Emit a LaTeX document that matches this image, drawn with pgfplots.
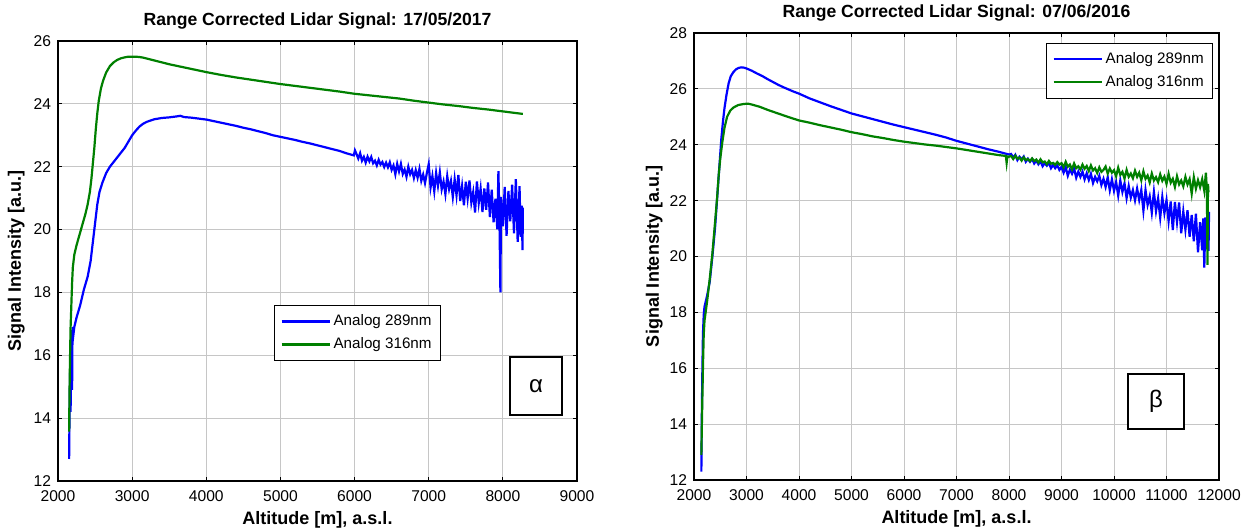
\documentclass[border=0pt]{standalone}
\usepackage{fontspec}
\setmainfont{Liberation Sans}
\usepackage{pgfplots}
\pgfplotsset{compat=1.18}

\definecolor{mblue}{RGB}{0,0,255}
\definecolor{mgreen}{RGB}{0,128,0}

% 1 px of the reference = 0.5pt
\pgfplotsset{
  lidar/.style={
    scale only axis,
    anchor=south west,
    axis line style={line width=0.75pt},
    tick align=inside,
    major tick length=2pt,
    tick style={black,line width=0.5pt},
    grid=major,
    major grid style={gray!45,line width=0.5pt},
    scaled ticks=false,
    /pgf/number format/assume math mode=true,
    /pgf/number format/1000 sep={},
    ticklabel style={font=\fontsize{7.8}{9}\selectfont},
    xticklabel style={yshift=-1.5pt},
    title style={font=\bfseries\fontsize{8.8}{10}\selectfont, at={(0.5,1)}, anchor=base, yshift=1.5pt},
    xlabel style={font=\bfseries\fontsize{9}{10}\selectfont, at={(0.5,0)}, anchor=base, yshift=-22pt},
    ylabel style={font=\bfseries\fontsize{9}{10}\selectfont, anchor=base},
    legend style={font=\fontsize{7.6}{9}\selectfont, draw=black, line width=0.5pt,
      inner xsep=3pt, inner ysep=3pt, nodes={inner sep=1.5pt}, row sep=1.5pt, cells={anchor=west}},
    legend image code/.code={\draw[#1, line width=1.1pt] (0pt,0pt) -- (24pt,0pt);},
  },
}

\begin{document}
\begin{tikzpicture}
\useasboundingbox (0,0) rectangle (624.5pt,264.5pt);

% ---------------- left panel ----------------
\begin{axis}[
  lidar,
  at={(29pt,24pt)},
  width=259.5pt, height=220pt,
  xmin=2000, xmax=9000, ymin=12, ymax=26,
  xtick={2000,3000,...,9000},
  ytick={12,14,...,26},
  title={Range Corrected Lidar Signal: 17/05/2017},
  xlabel={Altitude [m], a.s.l.},
  ylabel={Signal Intensity [a.u.]},
  ylabel style={at={(axis description cs:-0.0713,0.5)}},
  legend style={at={(0.416,0.4)}, anchor=north west},
]
\addplot[mblue, line width=1.1pt] coordinates {
(2150,12.7)(2155,14.0)(2160,15.0)(2165,15.7)(2170,14.2)(2175,15.8)(2180,16.8)
(2185,15.0)(2190,14.9)(2195,16.6)(2200,16.9)(2210,16.7)(2220,16.9)(2250,17.2)
(2300,17.6)(2350,18.1)(2400,18.5)(2440,19.0)(2470,19.6)(2500,20.2)(2530,20.8)
(2560,21.2)(2600,21.5)(2650,21.8)(2700,22.0)(2750,22.15)(2800,22.3)(2850,22.45)
(2900,22.6)(2950,22.8)(3000,23.0)(3050,23.15)(3100,23.28)(3150,23.37)(3200,23.43)
(3300,23.51)(3400,23.55)(3500,23.57)(3600,23.6)(3650,23.62)(3700,23.58)
(3800,23.56)(3900,23.53)(4000,23.5)(4100,23.45)(4200,23.4)(4300,23.35)
(4400,23.3)(4500,23.24)(4600,23.19)(4700,23.13)(4800,23.07)(4900,23.0)
(5000,22.95)(5100,22.9)(5200,22.85)(5300,22.79)(5400,22.74)(5500,22.68)
(5600,22.62)(5700,22.56)(5800,22.5)(5900,22.42)(5990,22.36)(6005,22.52)
(6025,22.41)(6050,22.26)(6075,22.43)(6100,22.19)(6125,22.31)(6150,22.13)
(6175,22.32)(6200,22.17)(6225,22.31)(6250,22.11)(6275,22.19)(6300,22.04)
(6325,22.22)(6350,22.07)(6375,22.15)(6400,21.99)(6425,22.13)(6450,21.98)
(6475,22.14)(6500,21.90)(6525,22.04)(6550,21.76)(6575,22.09)(6600,21.85)
(6625,22.09)(6650,21.77)(6675,21.91)(6700,21.68)(6725,22.00)(6750,21.76)
(6775,21.90)(6800,21.64)(6825,21.89)(6850,21.65)(6875,21.93)(6900,21.55)
(6925,21.75)(6950,21.48)(6975,21.80)(7000,22.08)(7025,21.34)(7050,21.70)
(7075,21.22)(7100,21.80)(7125,21.39)(7150,21.82)(7175,21.28)(7200,21.53)
(7225,21.13)(7250,21.70)(7275,21.29)(7300,21.55)(7325,21.04)(7350,21.60)
(7375,21.09)(7400,21.74)(7425,20.91)(7450,21.38)(7475,20.77)(7500,21.52)
(7525,20.99)(7550,21.56)(7575,20.86)(7600,21.19)(7625,20.54)(7650,21.53)
(7675,20.85)(7700,21.30)(7725,20.56)(7750,21.31)(7775,20.63)(7800,21.50)
(7825,20.40)(7850,21.27)(7875,20.23)(7900,20.98)(7925,20.01)(7940,21.86)
(7955,20.15)(7967,18.0)(7975,21.04)(8000,20.10)(8025,21.36)(8050,19.80)
(8075,21.23)(8100,20.26)(8125,21.43)(8150,19.88)(8175,21.60)(8200,19.61)
(8225,21.38)(8240,19.77)(8255,20.76)(8265,19.35)(8270,20.7)
};
\addlegendentry{Analog 289nm}
\addplot[mgreen, line width=1.1pt] coordinates {
(2150,13.57)(2155,14.8)(2160,15.6)(2165,16.3)(2170,16.9)(2180,17.6)(2190,18.3)
(2200,18.8)(2220,19.2)(2250,19.5)(2280,19.75)(2310,20.0)(2340,20.25)(2370,20.5)
(2400,20.8)(2430,21.2)(2450,21.6)(2470,22.1)(2490,22.6)(2510,23.2)(2530,23.7)
(2550,24.1)(2580,24.5)(2610,24.75)(2650,25.0)(2700,25.2)(2750,25.32)(2800,25.4)
(2850,25.45)(2900,25.48)(2950,25.5)(3000,25.5)(3050,25.5)(3100,25.49)
(3150,25.47)(3200,25.44)(3300,25.38)(3400,25.32)(3500,25.26)(3600,25.21)
(3700,25.16)(3800,25.11)(3900,25.06)(4000,25.01)(4200,24.92)(4400,24.84)
(4600,24.77)(4800,24.7)(5000,24.63)(5200,24.57)(5400,24.51)(5600,24.45)
(5800,24.39)(6000,24.32)(6200,24.27)(6400,24.22)(6600,24.17)(6800,24.1)
(7000,24.04)(7200,23.98)(7400,23.93)(7600,23.87)(7800,23.82)(8000,23.76)
(8200,23.7)(8270,23.68)
};
\addlegendentry{Analog 316nm}
\node[draw, fill=white, line width=0.6pt, minimum width=26pt, minimum height=29pt,
  font=\fontsize{12}{12}\selectfont] at (axis description cs:0.921,0.216) {α};
\end{axis}

% ---------------- right panel ----------------
\begin{axis}[
  lidar,
  at={(347pt,24.5pt)},
  width=262.5pt, height=223.5pt,
  xmin=2000, xmax=12000, ymin=12, ymax=28,
  xtick={2000,3000,...,12000},
  ytick={12,14,...,28},
  title={Range Corrected Lidar Signal: 07/06/2016},
  xlabel={Altitude [m], a.s.l.},
  ylabel={Signal Intensity [a.u.]},
  ylabel style={at={(axis description cs:-0.0667,0.5)}},
  legend style={at={(0.989,0.978)}, anchor=north east},
]
\addplot[mblue, line width=1.1pt] coordinates {
(2140,12.3)(2150,14.5)(2160,16.0)(2170,17.2)(2185,17.9)(2200,18.2)(2250,18.6)
(2300,19.1)(2350,20.0)(2400,21.0)(2430,21.8)(2460,22.6)(2490,23.4)(2520,24.2)
(2550,24.8)(2580,25.3)(2620,25.8)(2660,26.2)(2700,26.45)(2750,26.6)(2800,26.7)
(2850,26.75)(2900,26.77)(2950,26.76)(3000,26.73)(3100,26.65)(3200,26.55)
(3300,26.46)(3400,26.35)(3500,26.25)(3600,26.15)(3700,26.06)(3800,25.98)
(3900,25.9)(4000,25.83)(4200,25.66)(4400,25.52)(4600,25.38)(4800,25.25)
(5000,25.12)(5200,25.02)(5400,24.92)(5600,24.82)(5800,24.72)(6000,24.63)
(6200,24.54)(6400,24.45)(6600,24.36)(6800,24.26)(7000,24.14)(7200,24.04)
(7400,23.94)(7600,23.84)(7800,23.75)(8000,23.65)(8040,23.67)(8080,23.53)
(8120,23.64)(8160,23.45)(8200,23.57)(8240,23.48)(8280,23.58)(8320,23.39)
(8360,23.50)(8400,23.39)(8440,23.49)(8480,23.33)(8520,23.44)(8560,23.30)
(8600,23.41)(8640,23.23)(8680,23.34)(8720,23.25)(8760,23.35)(8800,23.16)
(8840,23.28)(8880,23.16)(8920,23.26)(8960,23.10)(9000,23.21)(9040,23.00)
(9080,23.20)(9120,22.89)(9160,23.11)(9200,22.96)(9240,23.15)(9280,22.82)
(9320,23.04)(9360,22.85)(9400,23.04)(9440,22.76)(9480,22.98)(9520,22.74)
(9560,22.96)(9600,22.63)(9640,22.85)(9680,22.69)(9720,22.89)(9760,22.56)
(9800,22.78)(9840,22.49)(9880,22.84)(9920,22.37)(9960,22.76)(10000,22.35)
(10040,22.67)(10080,22.18)(10120,22.72)(10160,22.31)(10200,22.62)(10240,22.09)
(10280,22.52)(10320,22.11)(10360,22.38)(10400,22.01)(10440,22.43)(10480,22.02)
(10520,22.38)(10560,21.64)(10600,22.38)(10640,21.85)(10680,22.15)(10720,21.57)
(10760,22.31)(10800,21.62)(10840,22.08)(10880,21.39)(10920,22.13)(10960,21.55)
(11000,22.01)(11040,21.27)(11080,21.97)(11120,20.95)(11160,21.95)(11200,21.23)
(11240,21.93)(11280,20.83)(11320,21.61)(11360,20.96)(11400,21.66)(11440,20.71)
(11480,21.49)(11520,20.54)(11560,21.53)(11600,20.15)(11640,21.23)(11680,20.22)
(11700,21.36)(11720,19.6)(11740,21.4)(11760,20.27)(11780,21.65)(11800,20.2)
(11810,21.6)
};
\addlegendentry{Analog 289nm}
\addplot[mgreen, line width=1.1pt] coordinates {
(2140,12.9)(2150,14.0)(2160,15.0)(2170,16.0)(2185,17.2)(2200,17.7)(2250,18.4)
(2300,19.2)(2350,20.1)(2400,21.2)(2440,22.1)(2470,22.9)(2500,23.5)(2540,24.1)
(2580,24.6)(2630,25.0)(2690,25.22)(2750,25.33)(2840,25.42)(2950,25.46)
(3030,25.47)(3100,25.44)(3250,25.36)(3400,25.25)(3600,25.12)(3800,24.99)
(4000,24.87)(4200,24.79)(4400,24.7)(4600,24.62)(4800,24.54)(5000,24.45)
(5200,24.38)(5400,24.3)(5600,24.24)(5800,24.17)(6000,24.11)(6200,24.06)
(6400,24.01)(6600,23.97)(6800,23.92)(7000,23.87)(7200,23.81)(7400,23.75)
(7600,23.69)(7800,23.63)(7940,23.6)(7955,23.35)(7970,23.58)(8000,23.57)
(8040,23.60)(8080,23.49)(8120,23.61)(8160,23.50)(8200,23.54)(8240,23.43)
(8280,23.55)(8320,23.45)(8360,23.49)(8400,23.41)(8440,23.51)(8480,23.42)
(8520,23.47)(8560,23.36)(8600,23.48)(8640,23.37)(8680,23.40)(8720,23.30)
(8760,23.42)(8800,23.32)(8840,23.35)(8880,23.28)(8920,23.38)(8960,23.29)
(9000,23.34)(9040,23.19)(9080,23.39)(9120,23.21)(9160,23.29)(9200,23.12)
(9240,23.33)(9280,23.16)(9320,23.23)(9360,23.11)(9400,23.29)(9440,23.14)
(9480,23.24)(9520,23.06)(9560,23.26)(9600,23.08)(9640,23.16)(9680,22.99)
(9720,23.19)(9760,23.03)(9800,23.10)(9840,23.22)(9880,22.97)(9920,23.15)
(9960,23.00)(10000,23.09)(10040,22.87)(10080,23.18)(10120,22.92)(10160,23.03)
(10200,22.79)(10240,23.10)(10280,22.85)(10320,22.97)(10360,22.80)(10400,23.07)
(10440,22.85)(10480,23.00)(10520,22.73)(10560,23.05)(10600,22.78)(10640,22.90)
(10680,22.65)(10720,22.97)(10760,22.72)(10800,22.84)(10840,22.66)(10880,22.94)
(10920,22.71)(10960,22.86)(11000,22.60)(11040,22.96)(11080,22.64)(11120,22.78)
(11160,22.49)(11200,22.87)(11240,22.58)(11280,22.72)(11320,22.51)(11360,22.85)
(11400,22.58)(11440,22.77)(11480,22.25)(11520,22.84)(11560,22.43)(11600,22.73)
(11640,22.48)(11680,22.77)(11720,22.35)(11750,23.0)(11770,22.35)(11780,19.7)
(11790,22.6)(11800,22.3)
};
\addlegendentry{Analog 316nm}
\node[draw, fill=white, line width=0.6pt, minimum width=28pt, minimum height=27.5pt,
  font=\fontsize{12}{12}\selectfont] at (axis description cs:0.88,0.1756) {β};
\end{axis}
\end{tikzpicture}
\end{document}
